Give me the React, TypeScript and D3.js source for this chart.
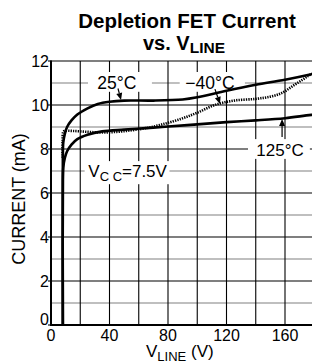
import React from "react";
import * as d3 from "d3";

const xTicks = [0, 40, 80, 120, 160];
const yTicks = [0, 2, 4, 6, 8, 10, 12];
const xGrid = [0, 20, 40, 60, 80, 100, 120, 140, 160, 180, 200];
const yGrid = [0, 1, 2, 3, 4, 5, 6, 7, 8, 9, 10, 11, 12];

const curve25: [number, number][] = [
  [8.1, 0], [8.1, 7.5], [8.4, 8.3], [9.5, 8.7], [11, 9.0], [14, 9.3], [18, 9.57],
  [25, 9.85], [32, 10.05], [40, 10.15], [50, 10.2], [70, 10.2], [90, 10.25],
  [100, 10.35], [120, 10.65], [140, 10.92], [160, 11.15], [178, 11.4], [200, 11.75],
];
const curveM40: [number, number][] = [
  [7.9, 7.6], [7.9, 8.4], [8.4, 8.78], [9.5, 8.82], [15, 8.82], [25, 8.78], [35, 8.75],
  [45, 8.78], [55, 8.85], [65, 8.95], [75, 9.1], [88, 9.35], [100, 9.65],
  [112, 10.0], [125, 10.2], [140, 10.28], [150, 10.38], [158, 10.55], [165, 10.85],
  [172, 11.15], [178, 11.4], [200, 11.9],
];
const curve125: [number, number][] = [
  [8.1, 0], [8.1, 6.6], [8.4, 7.15], [9.5, 7.6], [11, 7.9], [14, 8.2], [18, 8.45],
  [25, 8.65], [35, 8.8], [50, 8.88], [65, 8.95], [80, 9.02], [100, 9.12],
  [120, 9.22], [140, 9.3], [160, 9.4], [178, 9.55], [200, 9.7],
];

const FONT = "'Liberation Sans', Arial, sans-serif";

export default function App() {
  const W = 312, H = 364;
  const x = d3.scaleLinear().domain([0, 200]).range([51, 343.5]);
  const y = d3.scaleLinear().domain([0, 12]).range([325, 61]);
  const line = d3
    .line<[number, number]>()
    .x((d) => x(d[0]))
    .y((d) => y(d[1]))
    .curve(d3.curveCatmullRom.alpha(0.5));

  const box = (v0: number, v1: number, i0: number, i1: number) => (
    <rect x={x(v0)} y={y(i1)} width={x(v1) - x(v0)} height={y(i0) - y(i1)} fill="#fff" />
  );
  const arrow = (v0: number, i0: number, v1: number, i1: number) => {
    const x0 = x(v0), y0 = y(i0), x1 = x(v1), y1 = y(i1);
    const ang = Math.atan2(y1 - y0, x1 - x0);
    const L = 7, Wd = 3;
    const bx = x1 - L * Math.cos(ang), by = y1 - L * Math.sin(ang);
    const px = -Math.sin(ang) * Wd, py = Math.cos(ang) * Wd;
    return (
      <g>
        <line x1={x0} y1={y0} x2={bx} y2={by} stroke="#000" strokeWidth={1.2} />
        <path d={`M${x1},${y1}L${bx + px},${by + py}L${bx - px},${by - py}Z`} fill="#000" />
      </g>
    );
  };

  return (
    <svg width={W} height={H} style={{ position: "absolute", left: 0, top: 0, background: "#fff" }} fontFamily={FONT}>
      <defs>
        <clipPath id="plot">
          <rect x={x(0)} y={y(12)} width={W - x(0)} height={y(0) - y(12)} />
        </clipPath>
      </defs>
      {/* title */}
      <text x={187} y={28} textAnchor="middle" fontSize={20.5} fontWeight="bold">Depletion FET Current</text>
      <text x={184} y={50} textAnchor="middle" fontSize={20} fontWeight="bold">
        vs. V<tspan fontSize={15.5} dy={3}>LINE</tspan>
      </text>

      {/* grid */}
      {yGrid.map((v) => (
        <line key={"h" + v} x1={x(0)} x2={W} y1={y(v)} y2={y(v)} stroke={v % 2 ? "#808080" : "#000"} strokeWidth={1.1} />
      ))}
      {xGrid.map((v) => (
        <line key={"v" + v} x1={x(v)} x2={x(v)} y1={y(12)} y2={y(0)} stroke="#000" strokeWidth={1.1} />
      ))}
      {yTicks.map((v) => (
        <line key={"t" + v} x1={x(0) - 3} x2={x(0)} y1={y(v)} y2={y(v)} stroke="#000" strokeWidth={1.1} />
      ))}
      {/* axes */}
      <line x1={x(0)} x2={x(0)} y1={y(12) - 0.5} y2={y(0) + 1} stroke="#000" strokeWidth={2} />
      <line x1={x(0)} x2={W} y1={y(0)} y2={y(0)} stroke="#000" strokeWidth={2.2} />

      {/* label boxes */}
      {box(25.3, 69, 10.6, 11.5)}
      {box(88, 132.6, 10.6, 11.5)}
      {box(134.7, 177, 7.55, 8.45)}
      {box(23, 81, 6.4, 7.45)}

      {/* curves */}
      <g clipPath="url(#plot)" fill="none" stroke="#000">
        <path d={line(curve125) || ""} strokeWidth={2.6} />
        <path d={line(curveM40) || ""} strokeWidth={2.6} strokeDasharray="1.3 1.1" />
        <path d={line(curve25) || ""} strokeWidth={2.6} />
      </g>

      {/* annotations */}
      <text x={x(45)} y={y(10.75)} textAnchor="middle" fontSize={17.5}>25°C</text>
      <text x={x(108.7)} y={y(10.75)} textAnchor="middle" fontSize={17.5}>−40°C</text>
      <text x={x(156.6)} y={y(8) + 6.5} textAnchor="middle" fontSize={17}>125°C</text>
      <text x={x(25.5)} y={y(6.75)} fontSize={17}>
        V<tspan fontSize={13} dy={4}>C C</tspan><tspan dy={-4}>=7.5V</tspan>
      </text>
      {arrow(45.8, 10.75, 47.9, 10.23)}
      {arrow(112.1, 10.72, 115.6, 10.05)}
      {arrow(158, 8.55, 158, 9.36)}

      {/* tick labels */}
      {xTicks.map((v) => (
        <text key={"xl" + v} x={x(v)} y={341} textAnchor="middle" fontSize={16}>{v}</text>
      ))}
      {yTicks.map((v) => (
        <text key={"yl" + v} x={49} y={y(v) + (v === 0 ? 0 : 5.5)} textAnchor="end" fontSize={16}>{v}</text>
      ))}

      {/* axis titles */}
      <text transform={`translate(25,${199}) rotate(-90)`} textAnchor="middle" fontSize={18}>CURRENT (mA)</text>
      <text x={146} y={357} fontSize={17}>
        V<tspan fontSize={13} dy={4}>LINE</tspan><tspan dy={-4}> (V)</tspan>
      </text>
    </svg>
  );
}
